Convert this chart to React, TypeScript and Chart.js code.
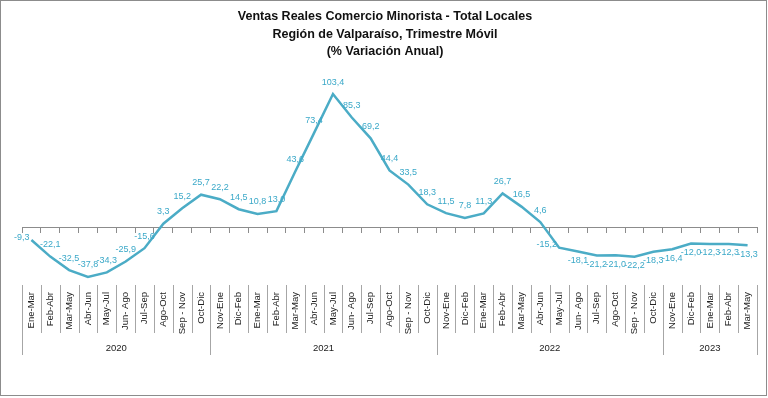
import React, { useEffect, useRef } from "react";
import { Chart, registerables } from "chart.js";

Chart.register(...registerables);

const TITLE_LINES = [
  "Ventas Reales Comercio Minorista - Total Locales",
  "Región de Valparaíso, Trimestre Móvil",
  "(% Variación Anual)",
];

const PERIODS_2020 = ["Ene-Mar", "Feb-Abr", "Mar-May", "Abr-Jun", "May-Jul", "Jun- Ago", "Jul-Sep", "Ago-Oct", "Sep - Nov", "Oct-Dic"];
const PERIODS_2021 = ["Nov-Ene", "Dic-Feb", "Ene-Mar", "Feb-Abr", "Mar-May", "Abr-Jun", "May-Jul", "Jun- Ago", "Jul-Sep", "Ago-Oct", "Sep - Nov", "Oct-Dic"];
const PERIODS_2022 = ["Nov-Ene", "Dic-Feb", "Ene-Mar", "Feb-Abr", "Mar-May", "Abr-Jun", "May-Jul", "Jun- Ago", "Jul-Sep", "Ago-Oct", "Sep - Nov", "Oct-Dic"];
const PERIODS_2023 = ["Nov-Ene", "Dic-Feb", "Ene-Mar", "Feb-Abr", "Mar-May"];

const YEARS = ["2020", "2021", "2022", "2023"];

const VALUES_2020 = [-9.3, -22.1, -32.5, -37.8, -34.3, -25.9, -15.6, 3.3, 15.2, 25.7];
const VALUES_2021 = [22.2, 14.5, 10.8, 13.0, 43.6, 73.4, 103.4, 85.3, 69.2, 44.4, 33.5, 18.3];
const VALUES_2022 = [11.5, 7.8, 11.3, 26.7, 16.5, 4.6, -15.2, -18.1, -21.2, -21.0, -22.2, -18.3];
const VALUES_2023 = [-16.4, -12.0, -12.3, -12.3, -13.3];

const GROUPS = [PERIODS_2020, PERIODS_2021, PERIODS_2022, PERIODS_2023];
const LABELS = [...PERIODS_2020, ...PERIODS_2021, ...PERIODS_2022, ...PERIODS_2023];
const VALUES = [...VALUES_2020, ...VALUES_2021, ...VALUES_2022, ...VALUES_2023];

// data label placement: l = left, a = above, b = below
const LABEL_PLACE = VALUES.map((_, i) => (i === 0 || i === 28 ? "l" : i > 28 ? "b" : "a"));

const LINE_COLOR = "#4BACC6";
const LABEL_COLOR = "#3AA8C8";
const FONT = "'Liberation Sans', Arial, sans-serif";
const NARROW = "'Liberation Sans Narrow', 'Liberation Sans', Arial, sans-serif";

const fmt = (v: number) => v.toFixed(1).replace(".", ",");

const decorPlugin = {
  id: "decor",
  afterDraw(chart: any) {
    const ctx = chart.ctx as CanvasRenderingContext2D;
    const xs = chart.scales.x;
    const meta = chart.getDatasetMeta(0);
    ctx.save();

    // outer border
    ctx.strokeStyle = "#8c8c8c";
    ctx.lineWidth = 1;
    ctx.strokeRect(0.5, 0.5, 766, 395);

    // title
    ctx.fillStyle = "#111";
    ctx.font = `bold 12.5px ${FONT}`;
    ctx.textAlign = "center";
    ctx.textBaseline = "middle";
    TITLE_LINES.forEach((t, i) => ctx.fillText(t, 385, 17 + i * 17.5));

    // data labels
    ctx.font = `9px ${FONT}`;
    ctx.fillStyle = LABEL_COLOR;
    meta.data.forEach((pt: any, i: number) => {
      const txt = fmt(VALUES[i]);
      const p = LABEL_PLACE[i];
      if (p === "l") {
        ctx.textAlign = "right";
        ctx.fillText(txt, pt.x - 2, pt.y - 3);
      } else if (p === "b") {
        ctx.textAlign = "center";
        ctx.fillText(txt, pt.x, pt.y + 9);
      } else {
        ctx.textAlign = "center";
        ctx.fillText(txt, pt.x, pt.y - 12);
      }
    });

    // category labels
    const step = xs.getPixelForValue(1) - xs.getPixelForValue(0);
    ctx.fillStyle = "#222";
    ctx.font = `9.5px ${NARROW}`;
    LABELS.forEach((lab, i) => {
      const x = xs.getPixelForValue(i);
      ctx.save();
      ctx.translate(x, 292);
      ctx.rotate(-Math.PI / 2);
      ctx.textAlign = "right";
      ctx.textBaseline = "middle";
      ctx.fillText(lab, 0, 0);
      ctx.restore();
    });

    // separators
    const groupStarts = new Set<number>();
    let acc = 0;
    GROUPS.forEach((g) => {
      groupStarts.add(acc);
      acc += g.length;
    });
    groupStarts.add(acc);
    ctx.strokeStyle = "#a6a6a6";
    ctx.lineWidth = 1;
    for (let i = 0; i <= LABELS.length; i++) {
      const x = Math.round(xs.getPixelForValue(0) - step / 2 + i * step) + 0.5;
      ctx.beginPath();
      ctx.moveTo(x, 285);
      ctx.lineTo(x, groupStarts.has(i) ? 355 : 333);
      ctx.stroke();
    }

    // year labels
    ctx.fillStyle = "#222";
    ctx.font = `9.5px ${FONT}`;
    ctx.textAlign = "center";
    ctx.textBaseline = "middle";
    let start = 0;
    GROUPS.forEach((g, gi) => {
      const x0 = xs.getPixelForValue(start) - step / 2;
      const x1 = xs.getPixelForValue(start + g.length - 1) + step / 2;
      ctx.fillText(YEARS[gi], (x0 + x1) / 2, 348);
      start += g.length;
    });

    ctx.restore();
  },
};

export default function App() {
  const ref = useRef<HTMLCanvasElement | null>(null);
  useEffect(() => {
    document.body.style.margin = "0";
    const chart = new Chart(ref.current as HTMLCanvasElement, {
      type: "line",
      data: {
        labels: LABELS,
        datasets: [
          {
            data: VALUES,
            borderColor: LINE_COLOR,
            borderWidth: 2.5,
            pointRadius: 0,
            tension: 0,
            fill: false,
            clip: false as any,
          },
        ],
      },
      options: {
        animation: false,
        responsive: false,
        layout: { padding: { left: 22, right: 11, top: 79, bottom: 111.7 } },
        plugins: { legend: { display: false }, tooltip: { enabled: false }, title: { display: false } },
        scales: {
          x: {
            type: "category",
            offset: true,
            position: { y: 0 } as any,
            ticks: { display: false },
            grid: { display: true, drawOnChartArea: false, drawTicks: true, tickLength: 5, offset: true, color: "#8c8c8c" },
            border: { display: true, color: "#8c8c8c" },
          },
          y: {
            display: false,
            min: -45,
            max: 115,
          },
        },
      },
      plugins: [decorPlugin],
    });
    return () => chart.destroy();
  }, []);
  return (
    <div style={{ width: 768, height: 398, background: "#fff" }}>
      <canvas ref={ref} width={768} height={398} />
    </div>
  );
}
